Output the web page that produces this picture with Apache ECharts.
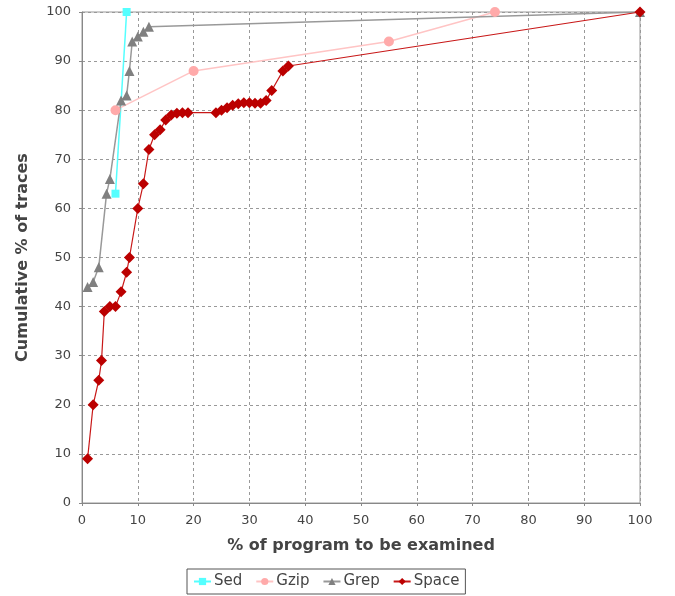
<!DOCTYPE html>
<html>
<head>
<meta charset="utf-8">
<script src="https://cdn.jsdelivr.net/npm/echarts@6/dist/echarts.min.js"></script>
<style>
  html, body { margin: 0; padding: 0; background: #fff; }
  #chart { width: 675px; height: 596px; }
</style>
</head>
<body>
<div id="chart"></div>
<script>
// values, [x %, y %]
const sedData = [[6, 63], [8, 100]];
const gzipData = [[6, 80], [20, 88], [55, 94], [74, 100]];
const grepData = [[1, 44], [2, 45], [3, 48], [4.4, 63], [5, 66], [7, 82], [8, 83], [8.5, 88],
  [9, 94], [10, 95], [11, 96], [12, 97], [100, 100]];
const spaceData = [[1, 9], [2, 20], [3, 25], [3.5, 29], [4, 39], [5, 40], [6, 40], [7, 43],
  [8, 47], [8.5, 50], [10, 60], [11, 65], [12, 72], [13, 75], [14, 76], [15, 78], [16, 79],
  [17, 79.4], [18, 79.5], [19, 79.5], [24, 79.5], [25, 80], [26, 80.5], [27, 81], [28, 81.3],
  [29, 81.5], [30, 81.5], [31, 81.4], [32, 81.4], [33, 82], [34, 84], [36, 88], [37, 89],
  [100, 100]];

const chart = echarts.init(document.getElementById('chart'));

const axisColor = '#888';
const font = 'DejaVu Sans';

const options = {
  animation: false,
  textStyle: { fontFamily: font },
  grid: {
    left: 82,
    right: 35,
    top: 12,
    bottom: 93,
    show: true,
    borderColor: '#999',
    borderWidth: 1
  },
  xAxis: {
    type: 'value',
    min: 0,
    max: 100,
    interval: 10,
    offset: 5,
    name: '% of program to be examined',
    nameLocation: 'middle',
    nameGap: 30,
    nameTextStyle: { color: '#444', fontSize: 16, fontWeight: 'bold', fontFamily: font },
    axisLine: { lineStyle: { color: axisColor } },
    axisTick: { length: 3, lineStyle: { color: axisColor } },
    axisLabel: { color: '#444', fontSize: 13, margin: 6 },
    splitLine: { lineStyle: { color: '#999', type: [3, 3] } }
  },
  yAxis: {
    type: 'value',
    min: 0,
    max: 100,
    interval: 10,
    offset: 5,
    name: 'Cumulative % of traces',
    nameLocation: 'middle',
    nameGap: 46,
    nameTextStyle: { color: '#444', fontSize: 16, fontWeight: 'bold', fontFamily: font },
    axisLine: { show: true, lineStyle: { color: axisColor } },
    axisTick: { show: true, length: 3, lineStyle: { color: axisColor } },
    axisLabel: { color: '#444', fontSize: 13, margin: 6 },
    splitLine: { lineStyle: { color: '#999', type: [3, 3] } }
  },
  legend: {
    bottom: 2,
    left: 187,
    borderColor: '#555',
    borderWidth: 1,
    borderRadius: 0,
    padding: [5, 6],
    itemGap: 13,
    itemWidth: 17,
    itemHeight: 9,
    textStyle: { color: '#444', fontSize: 15, padding: [0, 0, 0, -2] },
    data: ['Sed', 'Gzip', 'Grep', 'Space']
  },
  series: [
    {
      name: 'Sed', type: 'line', data: sedData,
      symbol: 'rect', symbolSize: 8,
      lineStyle: { color: '#55ffff', width: 1.5 },
      itemStyle: { color: '#55ffff' }
    },
    {
      name: 'Gzip', type: 'line', data: gzipData,
      symbol: 'circle', symbolSize: 10,
      lineStyle: { color: '#ffc4c4', width: 1.5 },
      itemStyle: { color: '#ffaaaa' }
    },
    {
      name: 'Grep', type: 'line', data: grepData,
      symbol: 'triangle', symbolSize: 10,
      lineStyle: { color: '#999', width: 1.5 },
      itemStyle: { color: '#808080' }
    },
    {
      name: 'Space', type: 'line', data: spaceData,
      symbol: 'diamond', symbolSize: 11,
      lineStyle: { color: '#c81818', width: 1.2 },
      itemStyle: { color: '#bb0000' }
    }
  ]
};

chart.setOption(options);
</script>
</body>
</html>
